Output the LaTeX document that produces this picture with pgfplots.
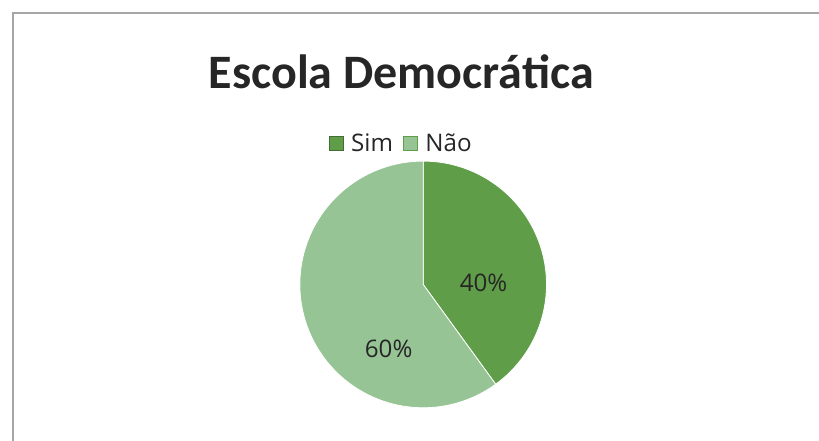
\documentclass[border=0pt]{standalone}
\usepackage{pgfplots}
\pgfplotsset{compat=1.18}
\usepackage{pgfplotstable}
\usepackage{fontspec}
\setmainfont{Carlito}
\newfontfamily\lblfont{Open Sans}

\definecolor{simcol}{RGB}{96,157,73}
\definecolor{naocol}{RGB}{150,196,149}
\definecolor{txtcol}{RGB}{38,38,38}
\definecolor{framecol}{RGB}{166,166,166}

\pgfplotstableread{
label value
Sim 40
Nao 60
}\piedata

\begin{document}
\pgfplotstablegetelem{0}{value}\of\piedata \let\vSim\pgfplotsretval
\pgfplotstablegetelem{1}{value}\of\piedata \let\vNao\pgfplotsretval
\pgfmathsetmacro\aSim{90-3.6*\vSim}
\pgfmathsetmacro\aNao{\aSim-3.6*\vNao}
\begin{tikzpicture}
\path[use as bounding box] (0,0) rectangle (819bp,443bp);
\draw[framecol, line width=1.5bp] (8.5bp,0) -- (8.5bp,430bp) -- (819bp,430bp);
\node[anchor=base, font=\bfseries\fontsize{48.3bp}{58bp}\selectfont, text=txtcol]
  at (399bp,354bp) {Escola Democrática};
\begin{axis}[
    at={(421bp,157bp)}, anchor=center,
    x=124bp, y=124bp,
    xmin=-1, xmax=1, ymin=-1, ymax=1,
    hide axis, clip=false,
    legend style={draw=none, fill=none, at={(0.415,1.073)}, anchor=center,
        inner sep=0pt, nodes={inner sep=3.5bp},
        legend columns=-1, font=\lblfont\fontsize{24.3bp}{29bp}\selectfont, text=txtcol,
        /tikz/every even column/.append style={column sep=7bp}},
    legend image code/.code={\draw[#1, line width=0.7bp] (0bp,-7bp) rectangle (14bp,7bp); \path (18bp,0bp);},
]
\addplot[fill=simcol, draw=white, line width=0.8bp, domain=\aSim:90, samples=120, variable=\t, forget plot]
  ({cos(\t)},{sin(\t)}) -- (axis cs:0,0) -- cycle;
\addplot[fill=naocol, draw=white, line width=0.8bp, domain=\aNao:\aSim, samples=160, variable=\t, forget plot]
  ({cos(\t)},{sin(\t)}) -- (axis cs:0,0) -- cycle;
\addlegendimage{fill=simcol, draw=simcol!70!black}
\addlegendentry{Sim}
\addlegendimage{fill=naocol, draw=simcol}
\addlegendentry{Não}
\node[font=\lblfont\fontsize{24.3bp}{29bp}\selectfont, text=txtcol] at (axis cs:0.49,0.01) {\vSim\%};
\node[font=\lblfont\fontsize{24.3bp}{29bp}\selectfont, text=txtcol] at (axis cs:-0.28,-0.52) {\vNao\%};
\end{axis}
\end{tikzpicture}
\end{document}
